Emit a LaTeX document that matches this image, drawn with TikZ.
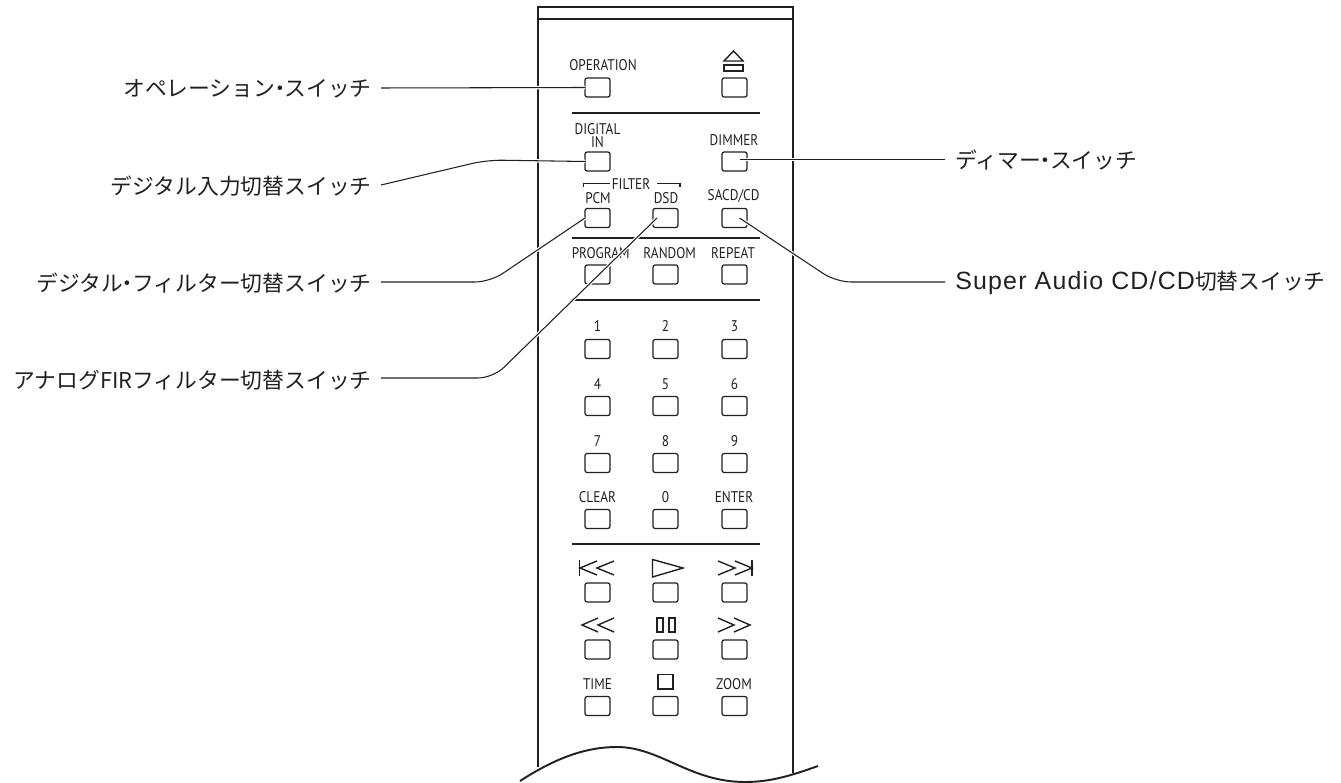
\documentclass[tikz,border=0pt]{standalone}
\usepackage{fontspec}
\setmainfont[FakeStretch=0.86]{PT Sans}
\newfontfamily\jpfont{Noto Sans CJK JP}
\newfontfamily\latfont[LetterSpace=4.7]{Liberation Sans}
\usepackage{tikz}
\usetikzlibrary{calc}
\definecolor{inkgrey}{RGB}{35,31,32}
\newcommand{\jpdot}{\makebox[0.42em]{・}}
\tikzset{
  btnbox/.style={draw=inkgrey,line width=0.7pt,rounded corners=1.2pt,minimum width=0.5cm,minimum height=0.38cm,inner sep=0pt,outer sep=0pt},
  btntext/.style={font=\fontsize{8.8}{7.2}\selectfont,text=inkgrey,inner sep=0pt},
  calllabel/.style={font=\jpfont\fontsize{12.4}{13}\selectfont,text=inkgrey,inner sep=0pt},
  leader/.style={draw=inkgrey,line width=0.6pt,rounded corners=0.3cm,preaction={draw=white,line width=2pt}},
  sepline/.style={draw=inkgrey,line width=0.75pt},
  bodyline/.style={draw=inkgrey,line width=1.4pt},
  iconline/.style={draw=inkgrey,line width=0.8pt,line join=miter},
}
\begin{document}
\begin{tikzpicture}[x=0.02cm,y=-0.02cm]
    \useasboundingbox (0,0) rectangle (1341,783);
    % Remote body
    \draw[bodyline] (538,767) -- (538,7) -- (793,7) -- (793,773);
    \draw[inkgrey,line width=0.6pt] (538,19) -- (793,19);
    \draw[bodyline,line width=1.1pt] (520,781) .. controls (560,755) and (590,747) .. (617,747)
      .. controls (660,747) and (690,782) .. (745,782)
      .. controls (770,782) and (790,776) .. (818,766);
    % Separators
    \foreach \y in {113,238,300,544}{
      \draw[sepline] (572,\y) -- (760,\y);
    }
    % Buttons
    \foreach \nm/\x/\y in {op/597.5/87.5,eject/734.5/87.5,digital/597.5/161.5,dimmer/734.5/161.5,
      pcm/597.5/218,dsd/665.5/218,sacd/734.5/218,program/597.5/274.5,random/665.5/274.5,repeat/734.5/274.5,
      one/597.5/349,two/665.5/349,three/734.5/349,four/597.5/406,five/665.5/406,six/734.5/406,
      seven/597.5/463,eight/665.5/463,nine/734.5/463,clear/597.5/519,zero/665.5/519,enter/734.5/519,
      prev/597.5/592.5,play/665.5/592.5,next/734.5/592.5,rew/597.5/649.5,pause/665.5/649.5,ffw/734.5/649.5,
      time/597.5/706,stopb/665.5/706,zoom/734.5/706}{
      \node[btnbox] (btn\nm) at (\x,\y) {};
    }
    % Button captions
    \foreach \nm/\x/\y/\lab in {op/603/65/OPERATION,dimmer/734/140/DIMMER,
      filter/631/184/FILTER,pcm/598/198/PCM,dsd/666/198/DSD,sacd/733.6/196/SACD\slash CD,
      program/600.7/253/PROGRAM,random/669.7/253/RANDOM,repeat/733/253/REPEAT,
      one/597.5/326/1,two/665.5/326/2,three/734.5/326/3,four/597.5/384/4,five/665.5/384/5,six/734.5/384/6,
      seven/597.5/441/7,eight/665.5/441/8,nine/734.5/441/9,clear/597.5/497/CLEAR,zero/665.5/497/0,enter/734/497/ENTER,
      time/597.5/684/TIME,zoom/734/684/ZOOM}{
      \node[btntext] (txt\nm) at (\x,\y) {\lab};
    }
    \node[btntext,align=center] (txtdigital) at (597.5,135.5) {DIGITAL\\IN};
    % Filter bracket
    \draw[iconline,line width=0.6pt] (583.5,187) -- (583.5,183.5) -- (610,183.5);
    \draw[iconline,line width=0.6pt] (657,183.5) -- (680,183.5) -- (680,187);
    % Icons
    \draw[iconline] (724,61) -- (733.5,51) -- (743,61) -- cycle;
    \draw[iconline] (724,65) rectangle (743,71);
    \draw[iconline] (579.5,560) -- (579.5,576);
    \draw[iconline] (597,561) -- (580,568) -- (597,575);
    \draw[iconline] (614,561) -- (597,568) -- (614,575);
    \draw[iconline] (652.5,559.5) -- (652.5,577) -- (683,568) -- cycle;
    \draw[iconline] (718,561) -- (735,568) -- (718,575);
    \draw[iconline] (735,561) -- (752,568) -- (735,575);
    \draw[iconline] (752,560) -- (752,576);
    \draw[iconline] (598,618) -- (582,625) -- (598,632);
    \draw[iconline] (614,618) -- (598,625) -- (614,632);
    \draw[iconline] (657,618) rectangle (663,632);
    \draw[iconline] (669,618) rectangle (675,632);
    \draw[iconline] (718,618) -- (734,625) -- (718,632);
    \draw[iconline] (734,618) -- (750,625) -- (734,632);
    \draw[iconline,line width=0.95pt] (658,674.5) rectangle (673,689);
    % Callout labels
    \node[calllabel,anchor=east] (lblop) at (372,89) {オペレーション\jpdot スイッチ};
    \node[calllabel,anchor=east] (lbldigital) at (372,186) {デジタル入力切替スイッチ};
    \node[calllabel,anchor=east] (lblpcm) at (372,283) {デジタル\jpdot フィルター切替スイッチ};
    \node[calllabel,anchor=east] (lbldsd) at (372,380) {アナログFIRフィルター切替スイッチ};
    \node[calllabel,anchor=west] (lbldimmer) at (955,160) {ディマー\jpdot スイッチ};
    \node[calllabel,anchor=west] (lblsacd) at (955,283) {{\latfont\fontsize{14.2}{15}\selectfont Super Audio CD/CD}切替スイッチ};
    % Leader ends and bends
    \coordinate (startop) at (381,88);
    \coordinate (startdigital) at (381,185);
    \coordinate (bendigital) at (487,160);
    \coordinate (startpcm) at (381,282);
    \coordinate (bendpcm) at (490,282);
    \coordinate (startdsd) at (381,378);
    \coordinate (benddsd) at (493,378);
    \coordinate (startdimmer) at (945,159.4);
    \coordinate (startsacd) at (945,282);
    \coordinate (bendsacd) at (836,282);
    % Leaders
    \draw[leader] (startop) -- (btnop.west);
    \draw[leader] (startdigital) -- (bendigital) -- (btndigital.west);
    \draw[leader] (startpcm) -- (bendpcm) -- (btnpcm.west);
    \draw[leader] (startdsd) -- (benddsd) -- ($(btndsd.center)+(-8.5,0)$);
    \draw[leader] (startdimmer) -- ($(btndimmer.center)+(5,-2.1)$);
    \draw[leader] (startsacd) -- (bendsacd) -- ($(btnsacd.center)+(5,0)$);
  \end{tikzpicture}
\end{document}
